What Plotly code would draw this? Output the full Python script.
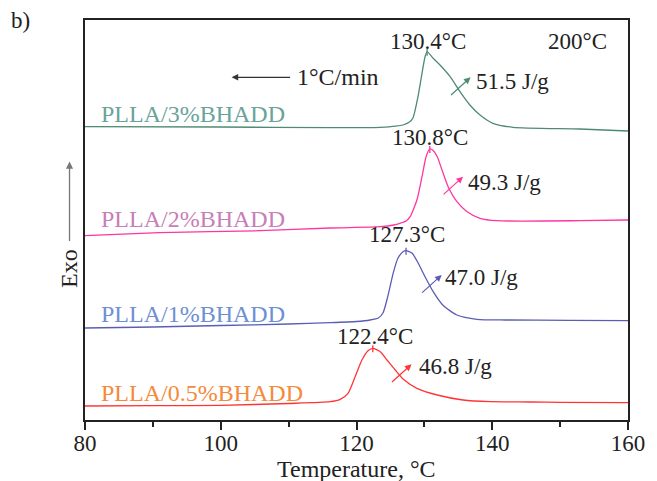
import plotly.graph_objects as go

# ---- data (temperature in °C, heat flow in arbitrary units, curves offset) ----
t_05 = [80, 90, 100, 110, 116.1, 117.6, 118.75, 119.8, 120.8, 121.7, 122.4, 123.5, 124.5, 125.7, 126.9, 128.9, 131.9, 135.7, 139.7, 145.6, 150, 160]
y_05 = [14, 14.3, 14.7, 16.5, 18.3, 20.7, 26.7, 43.3, 60, 69.3, 71.7, 68.3, 60, 50, 40.7, 31.7, 25, 20, 18.3, 18, 17.7, 17.3]

t_1 = [80, 90, 100, 110, 116.1, 120, 122.0, 123.2, 123.9, 124.6, 125.4, 126.1, 126.85, 127.3, 128.2, 129.1, 130.1, 131.3, 132.7, 134.8, 137.75, 142, 151.5, 160]
y_1 = [92, 93, 94.5, 96, 97.3, 98.5, 100, 102, 107, 123.3, 146.7, 161.7, 168.3, 169.3, 166.7, 156.7, 143.3, 128.3, 115, 105, 100.7, 100, 99.7, 99.3]

t_2 = [80, 91, 105.8, 116.1, 123.5, 125.5, 126.4, 127.3, 127.9, 128.9, 129.65, 130.25, 130.8, 131.3, 131.9, 132.6, 133.5, 134.8, 136.3, 138.2, 140.7, 152.9, 160]
y_2 = [184.3, 187.3, 189.3, 192, 193.3, 195, 196.7, 199, 203.3, 220, 243.3, 263.3, 271, 269.5, 263.3, 250, 233.3, 218.3, 208.3, 201.7, 199.3, 199.3, 200]

t_3 = [80, 100, 116.1, 123.5, 125.8, 126.85, 127.8, 128.3, 129.06, 129.65, 130.1, 130.4, 131.3, 132.3, 133.8, 135.25, 136.7, 138.2, 140.1, 143.05, 152.9, 160]
y_3 = [293.3, 293, 292.3, 292.7, 293.8, 295, 298, 301.7, 323.3, 346.7, 363.3, 368.3, 361.7, 355, 343.3, 328.3, 315, 305, 296.7, 292.7, 291, 289]

names = ["PLLA/0.5%BHADD", "PLLA/1%BHADD", "PLLA/2%BHADD", "PLLA/3%BHADD"]
peak_t = [122.4, 127.3, 130.8, 130.4]
peak_labels = ["122.4°C", "127.3°C", "130.8°C", "130.4°C"]
enthalpy_labels = ["46.8 J/g", "47.0 J/g", "49.3 J/g", "51.5 J/g"]

line_colors = ["#ff3535", "#5a5db5", "#ff35a0", "#4f8a72"]
label_colors = ["#f58a3b", "#6d90d5", "#c77fb8", "#6aa39a"]

FONT = "Liberation Serif"
TXT = "#222222"

curves = [(t_05, y_05), (t_1, y_1), (t_2, y_2), (t_3, y_3)]

fig = go.Figure()
for (t, y), c, n in zip(curves, line_colors, names):
    fig.add_trace(go.Scatter(x=t, y=y, mode="lines", name=n,
                             line=dict(color=c, width=1.3, shape="spline", smoothing=0.6),
                             showlegend=False))

# positions for annotations (data coords)
name_pos = [(82.0, 27), (82.0, 106), (82.0, 201), (82.0, 306)]
peak_lbl_pos = [(122.7, 84), (127.4, 186), (130.8, 283), (130.5, 379)]
arrow_head = [(128.1, 55.7), (132.55, 145), (135.7, 243.3), (136.8, 342.7)]
enth_pos = [(128.9, 54), (132.8, 142.5), (136.1, 237.5), (137.3, 339)]

for i in range(4):
    t, y = curves[i]
    ypk = max(y)
    fig.add_annotation(x=name_pos[i][0], y=name_pos[i][1], text=names[i], showarrow=False,
                       xanchor="left", yanchor="middle",
                       font=dict(family=FONT, size=24, color=label_colors[i]))
    fig.add_annotation(x=peak_lbl_pos[i][0], y=peak_lbl_pos[i][1], text=peak_labels[i], showarrow=False,
                       xanchor="center", yanchor="middle",
                       font=dict(family=FONT, size=23, color=TXT))
    fig.add_shape(type="line", x0=peak_t[i], x1=peak_t[i], y0=ypk - 4, y1=ypk + 3,
                  line=dict(color=line_colors[i], width=1.3))
    fig.add_annotation(x=arrow_head[i][0], y=arrow_head[i][1], ax=-21, ay=19, text="",
                       showarrow=True, arrowhead=2, arrowsize=1.1, arrowwidth=1.2,
                       arrowcolor=line_colors[i])
    fig.add_annotation(x=enth_pos[i][0], y=enth_pos[i][1], text=enthalpy_labels[i], showarrow=False,
                       xanchor="left", yanchor="middle",
                       font=dict(family=FONT, size=23, color=TXT))

# cooling-rate arrow and end temperature
fig.add_annotation(x=101.6, y=342.7, ax=60, ay=0, text="", showarrow=True, arrowhead=2,
                   arrowsize=1.1, arrowwidth=1.2, arrowcolor="#333333")
fig.add_annotation(x=110.9, y=343, text="1°C/min", showarrow=False, xanchor="left", yanchor="middle",
                   font=dict(family=FONT, size=24, color=TXT))
fig.add_annotation(x=152.6, y=379, text="200°C", showarrow=False, xanchor="center", yanchor="middle",
                   font=dict(family=FONT, size=23, color=TXT))

# Exo arrow
fig.add_annotation(xref="paper", yref="paper", x=-0.0285, y=0.646, ax=0, ay=81, text="",
                   showarrow=True, arrowhead=2, arrowsize=1.1, arrowwidth=1.3, arrowcolor="#777777")
fig.add_annotation(xref="paper", yref="paper", x=-0.0295, y=0.38, text="Exo", showarrow=False,
                   textangle=-90, xanchor="center", yanchor="middle",
                   font=dict(family=FONT, size=24, color=TXT))
# panel letter
fig.add_annotation(xref="paper", yref="paper", x=-0.118, y=1.0, text="b)", showarrow=False,
                   xanchor="center", yanchor="middle",
                   font=dict(family=FONT, size=23, color=TXT))
# x-axis title
fig.add_annotation(xref="paper", yref="paper", x=0.5, y=-0.122, text="Temperature, °C", showarrow=False,
                   xanchor="center", yanchor="middle",
                   font=dict(family=FONT, size=24, color=TXT))

fig.update_xaxes(range=[80, 160], dtick=20, tick0=80, ticks="outside", ticklen=8, tickwidth=1.5,
                 tickcolor="#222", showline=True, linecolor="#222", linewidth=2, mirror=True,
                 showgrid=False, zeroline=False, automargin=False, ticklabelstandoff=-7,
                 minor=dict(dtick=10, tick0=80, ticks="outside", ticklen=5, tickwidth=1.5, tickcolor="#222"),
                 tickfont=dict(family=FONT, size=23, color=TXT))
fig.update_yaxes(range=[0, 400], showticklabels=False, ticks="", showline=True, linecolor="#222",
                 linewidth=2, mirror=True, showgrid=False, zeroline=False, automargin=False)

fig.update_layout(width=657, height=481, margin=dict(l=85, r=29, t=20, b=61),
                  paper_bgcolor="white", plot_bgcolor="white")

fig.write_html("out.html")
